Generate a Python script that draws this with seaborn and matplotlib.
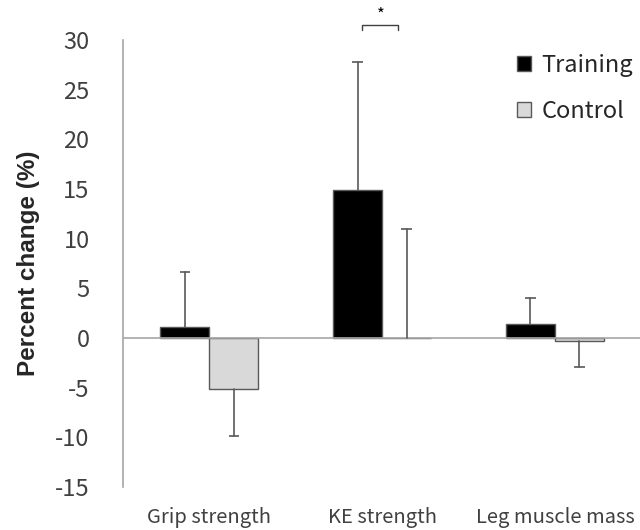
import matplotlib
matplotlib.use("Agg")
import matplotlib.pyplot as plt
import seaborn as sns
import pandas as pd

measures = ["Grip strength", "KE strength", "Leg muscle mass"]
groups = ["Training", "Control"]
training_mean = [1.1, 14.9, 1.4]
training_sd = [5.5, 12.9, 2.6]
control_mean = [-5.1, 0.0, -0.3]
control_sd = [4.8, 11.0, 2.6]

df = pd.DataFrame({
    "measure": measures * 2,
    "group": ["Training"] * 3 + ["Control"] * 3,
    "change": training_mean + control_mean,
})

sns.set_theme(style="white")
plt.rcParams["font.family"] = ["Noto Sans CJK JP", "DejaVu Sans"]
plt.rcParams["axes.unicode_minus"] = False

fig = plt.figure(figsize=(6.4, 5.3), dpi=100)
ax = fig.add_axes([0.192, 0.081, 0.81, 0.8435])

sns.barplot(data=df, x="measure", y="change", hue="group", order=measures,
            hue_order=groups, palette=["black", "#d9d9d9"], width=0.567,
            edgecolor="#595959", linewidth=1.0, errorbar=None, ax=ax)

# one-sided SD whiskers, drawn away from zero
err_color = "#595959"
cap_half = 0.03
for cont, means, sds in zip(ax.containers, [training_mean, control_mean],
                            [training_sd, control_sd]):
    for bar, m, s in zip(cont, means, sds):
        x = bar.get_x() + bar.get_width() / 2
        end = m + s if m >= 0 else m - s
        ax.plot([x, x], [m, end], color=err_color, lw=1.2, zorder=3)
        ax.plot([x - cap_half, x + cap_half], [end, end], color=err_color,
                lw=1.2, zorder=3, solid_capstyle="butt")

ax.axhline(0, color="#a6a6a6", linewidth=1.2, zorder=1)

# significance bracket over KE strength
ke_t = ax.containers[0][1]
ke_c = ax.containers[1][1]
x1 = ke_t.get_x() + ke_t.get_width() * 0.6
x2 = ke_c.get_x() + ke_c.get_width() * 0.33
yb, yt = 31.05, 31.5
ax.plot([x1, x1, x2, x2], [yb, yt, yt, yb], color="#404040", lw=1.0,
        clip_on=False)
ax.text((x1 + x2) / 2, yt + 0.1, "*", ha="center", va="bottom", fontsize=12,
        color="black")

ax.set_ylim(-15, 30)
ax.set_yticks(range(-15, 31, 5))
ax.set_xlim(-0.5, 2.5)
ax.set_xlabel("")
ax.set_ylabel("Percent change (%)", fontsize=17.5, fontweight="bold",
              family=["Liberation Sans", "DejaVu Sans"], labelpad=11)
ax.tick_params(axis="y", labelsize=17, length=0, pad=24)
ax.tick_params(axis="x", labelsize=14.5, length=0, pad=14)
for lab in ax.get_yticklabels() + ax.get_xticklabels():
    lab.set_color("#404040")
for side in ["top", "right", "bottom"]:
    ax.spines[side].set_visible(False)
ax.spines["left"].set_color("#a6a6a6")
ax.spines["left"].set_linewidth(1.2)

ax.legend(title=None, frameon=False, loc="upper right",
          bbox_to_anchor=(1.012, 1.0), fontsize=17, handlelength=0.6,
          handleheight=0.6, handletextpad=0.45, labelspacing=0.95,
          borderaxespad=0.2, labelcolor="#262626")

fig.savefig("out.png", dpi=100, facecolor="white")
